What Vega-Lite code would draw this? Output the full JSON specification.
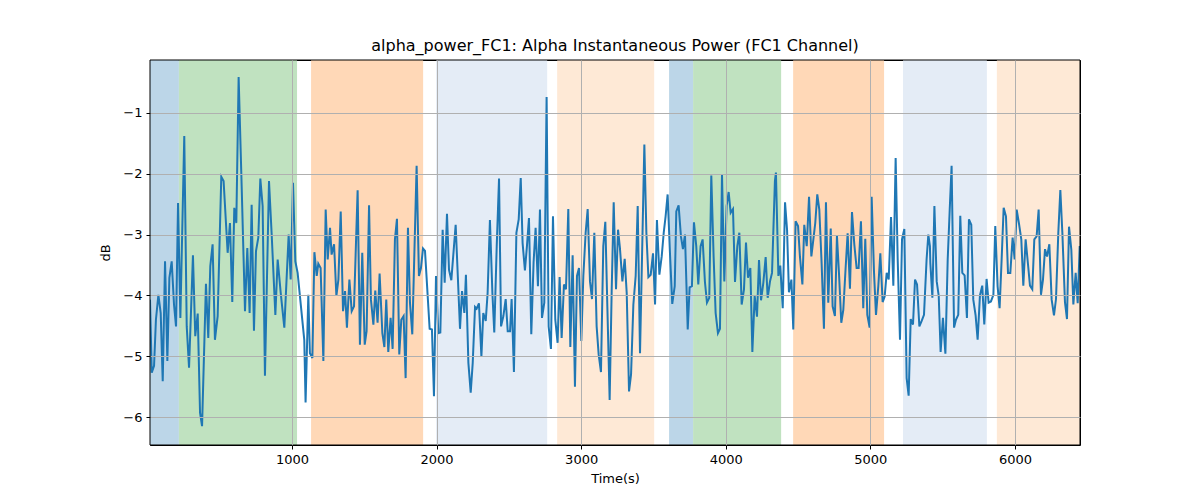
{
  "$schema": "https://vega.github.io/schema/vega-lite/v6.json",
  "width": 930,
  "height": 385,
  "autosize": {"type": "none"},
  "padding": {"left": 150, "top": 60, "right": 120, "bottom": 55},
  "title": {"text": "alpha_power_FC1: Alpha Instantaneous Power (FC1 Channel)", "font": "DejaVu Sans", "fontSize": 16, "fontWeight": "normal", "color": "black", "offset": 6},
  "datasets": {
    "bands": [
      {"start": 18, "end": 218, "band": "a"},
      {"start": 218, "end": 1035, "band": "b"},
      {"start": 1132, "end": 1907, "band": "c"},
      {"start": 1997, "end": 2765, "band": "d"},
      {"start": 2834, "end": 3505, "band": "e"},
      {"start": 3608, "end": 3774, "band": "a"},
      {"start": 3774, "end": 4383, "band": "b"},
      {"start": 4466, "end": 5095, "band": "c"},
      {"start": 5226, "end": 5806, "band": "d"},
      {"start": 5875, "end": 6450, "band": "e"}
    ],
    "power": [
      {"t":18,"v":-4.07},{"t":30,"v":-5.27},{"t":46,"v":-5.16},{"t":59,"v":-4.40},{"t":76,"v":-3.99},{"t":92,"v":-4.29},{"t":106,"v":-5.41},{"t":122,"v":-3.44},{"t":138,"v":-5.08},{"t":152,"v":-3.71},{"t":168,"v":-3.44},{"t":184,"v":-4.15},{"t":198,"v":-4.51},{"t":212,"v":-2.48},{"t":228,"v":-4.37},{"t":255,"v":-1.38},{"t":272,"v":-4.51},{"t":288,"v":-5.19},{"t":315,"v":-3.34},{"t":331,"v":-4.67},{"t":348,"v":-4.30},{"t":364,"v":-5.93},{"t":378,"v":-6.15},{"t":405,"v":-3.81},{"t":421,"v":-4.70},{"t":435,"v":-3.52},{"t":451,"v":-3.16},{"t":467,"v":-4.73},{"t":486,"v":-4.34},{"t":511,"v":-2.05},{"t":527,"v":-2.12},{"t":555,"v":-3.30},{"t":571,"v":-2.81},{"t":587,"v":-4.11},{"t":601,"v":-2.56},{"t":615,"v":-2.81},{"t":631,"v":-0.41},{"t":652,"v":-2.21},{"t":675,"v":-4.26},{"t":691,"v":-3.22},{"t":707,"v":-4.29},{"t":721,"v":-2.51},{"t":737,"v":-4.58},{"t":751,"v":-3.27},{"t":767,"v":-3.05},{"t":781,"v":-2.08},{"t":797,"v":-2.53},{"t":813,"v":-5.32},{"t":841,"v":-2.12},{"t":859,"v":-2.97},{"t":885,"v":-4.32},{"t":901,"v":-3.41},{"t":922,"v":-3.96},{"t":947,"v":-4.53},{"t":977,"v":-3.00},{"t":991,"v":-3.74},{"t":1007,"v":-2.15},{"t":1023,"v":-3.44},{"t":1039,"v":-3.63},{"t":1085,"v":-4.73},{"t":1094,"v":-5.76},{"t":1113,"v":-3.99},{"t":1124,"v":-4.95},
      {"t":1141,"v":-5.03},{"t":1155,"v":-3.29},{"t":1171,"v":-3.68},{"t":1182,"v":-3.48},{"t":1198,"v":-3.55},{"t":1217,"v":-5.08},{"t":1233,"v":-2.59},{"t":1247,"v":-3.41},{"t":1263,"v":-2.89},{"t":1274,"v":-3.33},{"t":1291,"v":-3.16},{"t":1307,"v":-4.01},{"t":1321,"v":-3.74},{"t":1337,"v":-2.62},{"t":1353,"v":-4.26},{"t":1367,"v":-3.93},{"t":1380,"v":-4.53},{"t":1397,"v":-3.74},{"t":1413,"v":-4.26},{"t":1429,"v":-4.18},{"t":1454,"v":-2.27},{"t":1470,"v":-4.81},{"t":1486,"v":-3.30},{"t":1503,"v":-4.81},{"t":1516,"v":-4.59},{"t":1533,"v":-2.52},{"t":1546,"v":-4.07},{"t":1563,"v":-4.48},{"t":1576,"v":-3.92},{"t":1592,"v":-4.45},{"t":1606,"v":-3.64},{"t":1625,"v":-4.62},{"t":1639,"v":-4.85},{"t":1652,"v":-4.07},{"t":1666,"v":-4.93},{"t":1682,"v":-4.37},{"t":1696,"v":-4.88},{"t":1712,"v":-3.08},{"t":1726,"v":-2.74},{"t":1742,"v":-4.97},{"t":1756,"v":-4.40},{"t":1772,"v":-4.34},{"t":1786,"v":-5.36},{"t":1802,"v":-2.89},{"t":1816,"v":-4.12},{"t":1832,"v":-4.64},{"t":1862,"v":-1.87},{"t":1878,"v":-3.68},{"t":1892,"v":-3.55},{"t":1906,"v":-3.23},{"t":1920,"v":-3.27},{"t":1952,"v":-4.55},{"t":1968,"v":-4.56},{"t":1982,"v":-5.66},{"t":1996,"v":-3.68},{"t":2012,"v":-4.62},{"t":2026,"v":-4.61},{"t":2042,"v":-2.92},{"t":2056,"v":-3.79},{"t":2072,"v":-2.66},{"t":2086,"v":-3.58},{"t":2102,"v":-3.75},{"t":2132,"v":-2.84},{"t":2162,"v":-4.55},{"t":2176,"v":-3.93},{"t":2192,"v":-4.29},
      {"t":2203,"v":-3.66},{"t":2220,"v":-5.11},{"t":2236,"v":-5.60},{"t":2250,"v":-5.11},{"t":2266,"v":-4.19},{"t":2277,"v":-4.22},{"t":2293,"v":-4.13},{"t":2310,"v":-5.01},{"t":2323,"v":-4.29},{"t":2340,"v":-4.42},{"t":2353,"v":-3.96},{"t":2369,"v":-2.76},{"t":2386,"v":-3.96},{"t":2399,"v":-4.61},{"t":2416,"v":-3.19},{"t":2432,"v":-2.08},{"t":2446,"v":-4.51},{"t":2462,"v":-4.34},{"t":2478,"v":-4.06},{"t":2492,"v":-4.59},{"t":2508,"v":-4.59},{"t":2519,"v":-4.06},{"t":2535,"v":-5.26},{"t":2552,"v":-2.97},{"t":2568,"v":-2.75},{"t":2582,"v":-2.07},{"t":2595,"v":-3.14},{"t":2611,"v":-3.59},{"t":2625,"v":-3.19},{"t":2639,"v":-2.73},{"t":2655,"v":-4.64},{"t":2671,"v":-3.45},{"t":2685,"v":-2.89},{"t":2701,"v":-3.85},{"t":2715,"v":-2.59},{"t":2729,"v":-4.37},{"t":2745,"v":-4.12},{"t":2761,"v":-0.74},{"t":2775,"v":-4.51},{"t":2791,"v":-4.88},{"t":2805,"v":-2.70},{"t":2821,"v":-4.40},{"t":2837,"v":-4.78},{"t":2851,"v":-3.70},{"t":2865,"v":-4.70},{"t":2881,"v":-3.82},{"t":2895,"v":-3.90},{"t":2911,"v":-2.58},{"t":2925,"v":-4.85},{"t":2941,"v":-3.34},{"t":2957,"v":-5.50},{"t":2971,"v":-3.68},{"t":2985,"v":-3.55},{"t":3001,"v":-4.75},{"t":3015,"v":-3.68},{"t":3031,"v":-2.97},{"t":3045,"v":-2.58},{"t":3061,"v":-3.77},{"t":3075,"v":-4.06},{"t":3091,"v":-2.97},{"t":3107,"v":-4.51},{"t":3121,"v":-4.97},{"t":3137,"v":-5.26},{"t":3153,"v":-3.19},{"t":3167,"v":-2.79},{"t":3181,"v":-4.18},{"t":3197,"v":-5.72},{"t":3211,"v":-3.93},{"t":3225,"v":-2.47},{"t":3241,"v":-3.90},{"t":3255,"v":-2.92},{"t":3268,"v":-3.22},
      {"t":3285,"v":-3.77},{"t":3301,"v":-3.40},{"t":3315,"v":-3.96},{"t":3331,"v":-5.58},{"t":3345,"v":-5.30},{"t":3361,"v":-4.15},{"t":3377,"v":-3.68},{"t":3391,"v":-2.53},{"t":3407,"v":-4.95},{"t":3421,"v":-3.36},{"t":3437,"v":-1.52},{"t":3451,"v":-2.97},{"t":3465,"v":-3.70},{"t":3481,"v":-3.66},{"t":3497,"v":-3.31},{"t":3511,"v":-4.15},{"t":3524,"v":-2.76},{"t":3541,"v":-3.66},{"t":3557,"v":-3.36},{"t":3571,"v":-2.97},{"t":3584,"v":-2.70},{"t":3598,"v":-2.34},{"t":3614,"v":-3.30},{"t":3630,"v":-4.14},{"t":3647,"v":-3.85},{"t":3658,"v":-2.62},{"t":3674,"v":-2.52},{"t":3690,"v":-3.03},{"t":3704,"v":-3.24},{"t":3718,"v":-3.00},{"t":3737,"v":-4.56},{"t":3750,"v":-3.87},{"t":3766,"v":-3.85},{"t":3780,"v":-2.80},{"t":3796,"v":-3.19},{"t":3810,"v":-3.82},{"t":3826,"v":-3.19},{"t":3840,"v":-3.08},{"t":3856,"v":-3.78},{"t":3870,"v":-4.12},{"t":3886,"v":-4.04},{"t":3900,"v":-2.03},{"t":3916,"v":-3.36},{"t":3930,"v":-4.29},{"t":3946,"v":-4.62},{"t":3960,"v":-4.55},{"t":3974,"v":-2.01},{"t":3990,"v":-3.77},{"t":4006,"v":-2.53},{"t":4020,"v":-2.30},{"t":4034,"v":-2.64},{"t":4050,"v":-2.58},{"t":4064,"v":-3.78},{"t":4080,"v":-3.19},{"t":4094,"v":-2.97},{"t":4110,"v":-4.15},{"t":4126,"v":-3.90},{"t":4140,"v":-3.13},{"t":4154,"v":-3.71},{"t":4170,"v":-3.55},{"t":4184,"v":-4.93},{"t":4200,"v":-4.01},{"t":4216,"v":-4.35},{"t":4230,"v":-3.42},{"t":4244,"v":-4.08},{"t":4260,"v":-3.79},{"t":4276,"v":-3.37},{"t":4290,"v":-4.04},{"t":4306,"v":-3.77},{"t":4320,"v":-3.63},{"t":4340,"v":-2.12},
      {"t":4347,"v":-1.98},{"t":4364,"v":-3.68},{"t":4377,"v":-3.51},{"t":4394,"v":-4.21},{"t":4410,"v":-2.47},{"t":4424,"v":-2.92},{"t":4437,"v":-3.95},{"t":4454,"v":-3.74},{"t":4467,"v":-4.56},{"t":4483,"v":-2.78},{"t":4500,"v":-2.86},{"t":4513,"v":-3.36},{"t":4530,"v":-3.82},{"t":4543,"v":-2.84},{"t":4560,"v":-3.19},{"t":4576,"v":-2.38},{"t":4592,"v":-3.36},{"t":4606,"v":-3.08},{"t":4619,"v":-2.81},{"t":4633,"v":-2.34},{"t":4647,"v":-2.59},{"t":4663,"v":-3.47},{"t":4679,"v":-4.55},{"t":4693,"v":-2.47},{"t":4709,"v":-4.12},{"t":4726,"v":-2.90},{"t":4739,"v":-4.18},{"t":4755,"v":-4.34},{"t":4769,"v":-3.02},{"t":4783,"v":-3.63},{"t":4799,"v":-4.45},{"t":4813,"v":-4.24},{"t":4829,"v":-3.55},{"t":4843,"v":-2.98},{"t":4859,"v":-3.89},{"t":4873,"v":-2.63},{"t":4889,"v":-3.16},{"t":4905,"v":-3.55},{"t":4919,"v":-3.55},{"t":4935,"v":-2.78},{"t":4951,"v":-4.21},{"t":4965,"v":-3.07},{"t":4979,"v":-4.32},{"t":4995,"v":-4.53},{"t":5009,"v":-2.38},{"t":5025,"v":-3.60},{"t":5039,"v":-4.32},{"t":5055,"v":-3.85},{"t":5069,"v":-3.31},{"t":5085,"v":-4.11},{"t":5099,"v":-4.02},{"t":5113,"v":-3.63},{"t":5127,"v":-3.74},{"t":5143,"v":-2.71},{"t":5159,"v":-3.84},{"t":5175,"v":-1.74},{"t":5189,"v":-3.40},{"t":5205,"v":-4.73},{"t":5219,"v":-3.08},{"t":5235,"v":-2.91},{"t":5251,"v":-5.36},{"t":5265,"v":-5.65},{"t":5279,"v":-4.39},{"t":5295,"v":-4.48},{"t":5309,"v":-3.74},{"t":5323,"v":-3.82},{"t":5339,"v":-4.51},{"t":5355,"v":-4.42},{"t":5371,"v":-4.32},{"t":5389,"v":-3.41},{"t":5401,"v":-3.00},{"t":5412,"v":-3.19},
      {"t":5415,"v":-3.47},{"t":5429,"v":-4.04},{"t":5443,"v":-2.53},{"t":5459,"v":-3.77},{"t":5473,"v":-4.01},{"t":5486,"v":-4.93},{"t":5502,"v":-4.37},{"t":5519,"v":-4.96},{"t":5535,"v":-3.41},{"t":5549,"v":-2.59},{"t":5562,"v":-1.87},{"t":5579,"v":-4.53},{"t":5592,"v":-4.40},{"t":5608,"v":-4.32},{"t":5622,"v":-2.69},{"t":5636,"v":-3.63},{"t":5652,"v":-3.67},{"t":5668,"v":-4.37},{"t":5682,"v":-2.75},{"t":5698,"v":-2.84},{"t":5712,"v":-4.07},{"t":5728,"v":-4.33},{"t":5742,"v":-4.73},{"t":5758,"v":-4.00},{"t":5774,"v":-3.84},{"t":5788,"v":-4.48},{"t":5804,"v":-3.73},{"t":5818,"v":-4.12},{"t":5834,"v":-4.10},{"t":5851,"v":-3.99},{"t":5864,"v":-2.86},{"t":5880,"v":-3.85},{"t":5894,"v":-4.21},{"t":5908,"v":-3.41},{"t":5922,"v":-2.56},{"t":5938,"v":-2.70},{"t":5952,"v":-3.63},{"t":5968,"v":-3.63},{"t":5984,"v":-3.05},{"t":5998,"v":-3.41},{"t":6012,"v":-2.59},{"t":6028,"v":-2.82},{"t":6044,"v":-3.08},{"t":6058,"v":-3.84},{"t":6074,"v":-3.08},{"t":6090,"v":-3.48},{"t":6104,"v":-3.84},{"t":6120,"v":-3.90},{"t":6134,"v":-3.08},{"t":6150,"v":-3.03},{"t":6164,"v":-2.59},{"t":6180,"v":-3.99},{"t":6194,"v":-3.74},{"t":6208,"v":-3.24},{"t":6222,"v":-3.36},{"t":6238,"v":-3.16},{"t":6254,"v":-4.07},{"t":6270,"v":-4.33},{"t":6284,"v":-4.06},{"t":6300,"v":-2.97},{"t":6314,"v":-2.27},{"t":6328,"v":-2.97},{"t":6346,"v":-4.11},{"t":6360,"v":-4.39},{"t":6374,"v":-2.87},{"t":6390,"v":-3.25},{"t":6404,"v":-4.15},{"t":6420,"v":-3.63},{"t":6434,"v":-4.13},{"t":6448,"v":-3.19}
    ]
  },
  "layer": [
    {
      "data": {"name": "bands"},
      "mark": {"type": "rect"},
      "encoding": {
        "x": {"field": "start", "type": "quantitative", "scale": {"domain": [18, 6450], "nice": false, "zero": false},
          "axis": {"values": [1000, 2000, 3000, 4000, 5000, 6000], "format": "d", "title": "Time(s)", "grid": true, "zindex": 1}},
        "x2": {"field": "end"},
        "y": {"datum": -6.46, "type": "quantitative", "scale": {"domain": [-6.46, -0.13], "nice": false, "zero": false},
          "axis": {"values": [-6, -5, -4, -3, -2, -1], "format": "d", "labelExpr": "replace(datum.label, '-', '−')", "title": "dB", "grid": true, "zindex": 1}},
        "y2": {"datum": -0.13},
        "color": {"field": "band", "type": "nominal", "legend": null,
          "scale": {"domain": ["a", "b", "c", "d", "e"], "range": ["#bcd6e8", "#c0e2c0", "#ffd8b7", "#e4ecf6", "#fee9d6"]}}
      }
    },
    {
      "data": {"name": "power"},
      "mark": {"type": "line", "color": "#1f77b4", "strokeWidth": 2, "clip": true},
      "encoding": {
        "x": {"field": "t", "type": "quantitative"},
        "y": {"field": "v", "type": "quantitative"}
      }
    },
    {
      "data": {"values": [{}]},
      "mark": {"type": "rect", "fill": null, "fillOpacity": 0, "stroke": "black", "strokeWidth": 1},
      "encoding": {
        "x": {"datum": 18, "type": "quantitative"},
        "x2": {"datum": 6450},
        "y": {"datum": -6.46, "type": "quantitative"},
        "y2": {"datum": -0.13}
      }
    }
  ],
  "config": {
    "font": "DejaVu Sans",
    "view": {"stroke": "black", "strokeWidth": 1},
    "axis": {
      "domain": false, "tickColor": "black", "tickSize": 4, "labelColor": "black", "labelFontSize": 13, "labelFont": "DejaVu Sans",
      "titleFont": "DejaVu Sans", "titleFontSize": 13, "titleFontWeight": "normal", "titleColor": "black",
      "gridColor": "#b0b0b0", "gridOpacity": 1, "gridWidth": 1, "labelPadding": 4
    },
    "axisY": {"titlePadding": 10},
    "axisX": {"titlePadding": 6}
  }
}
